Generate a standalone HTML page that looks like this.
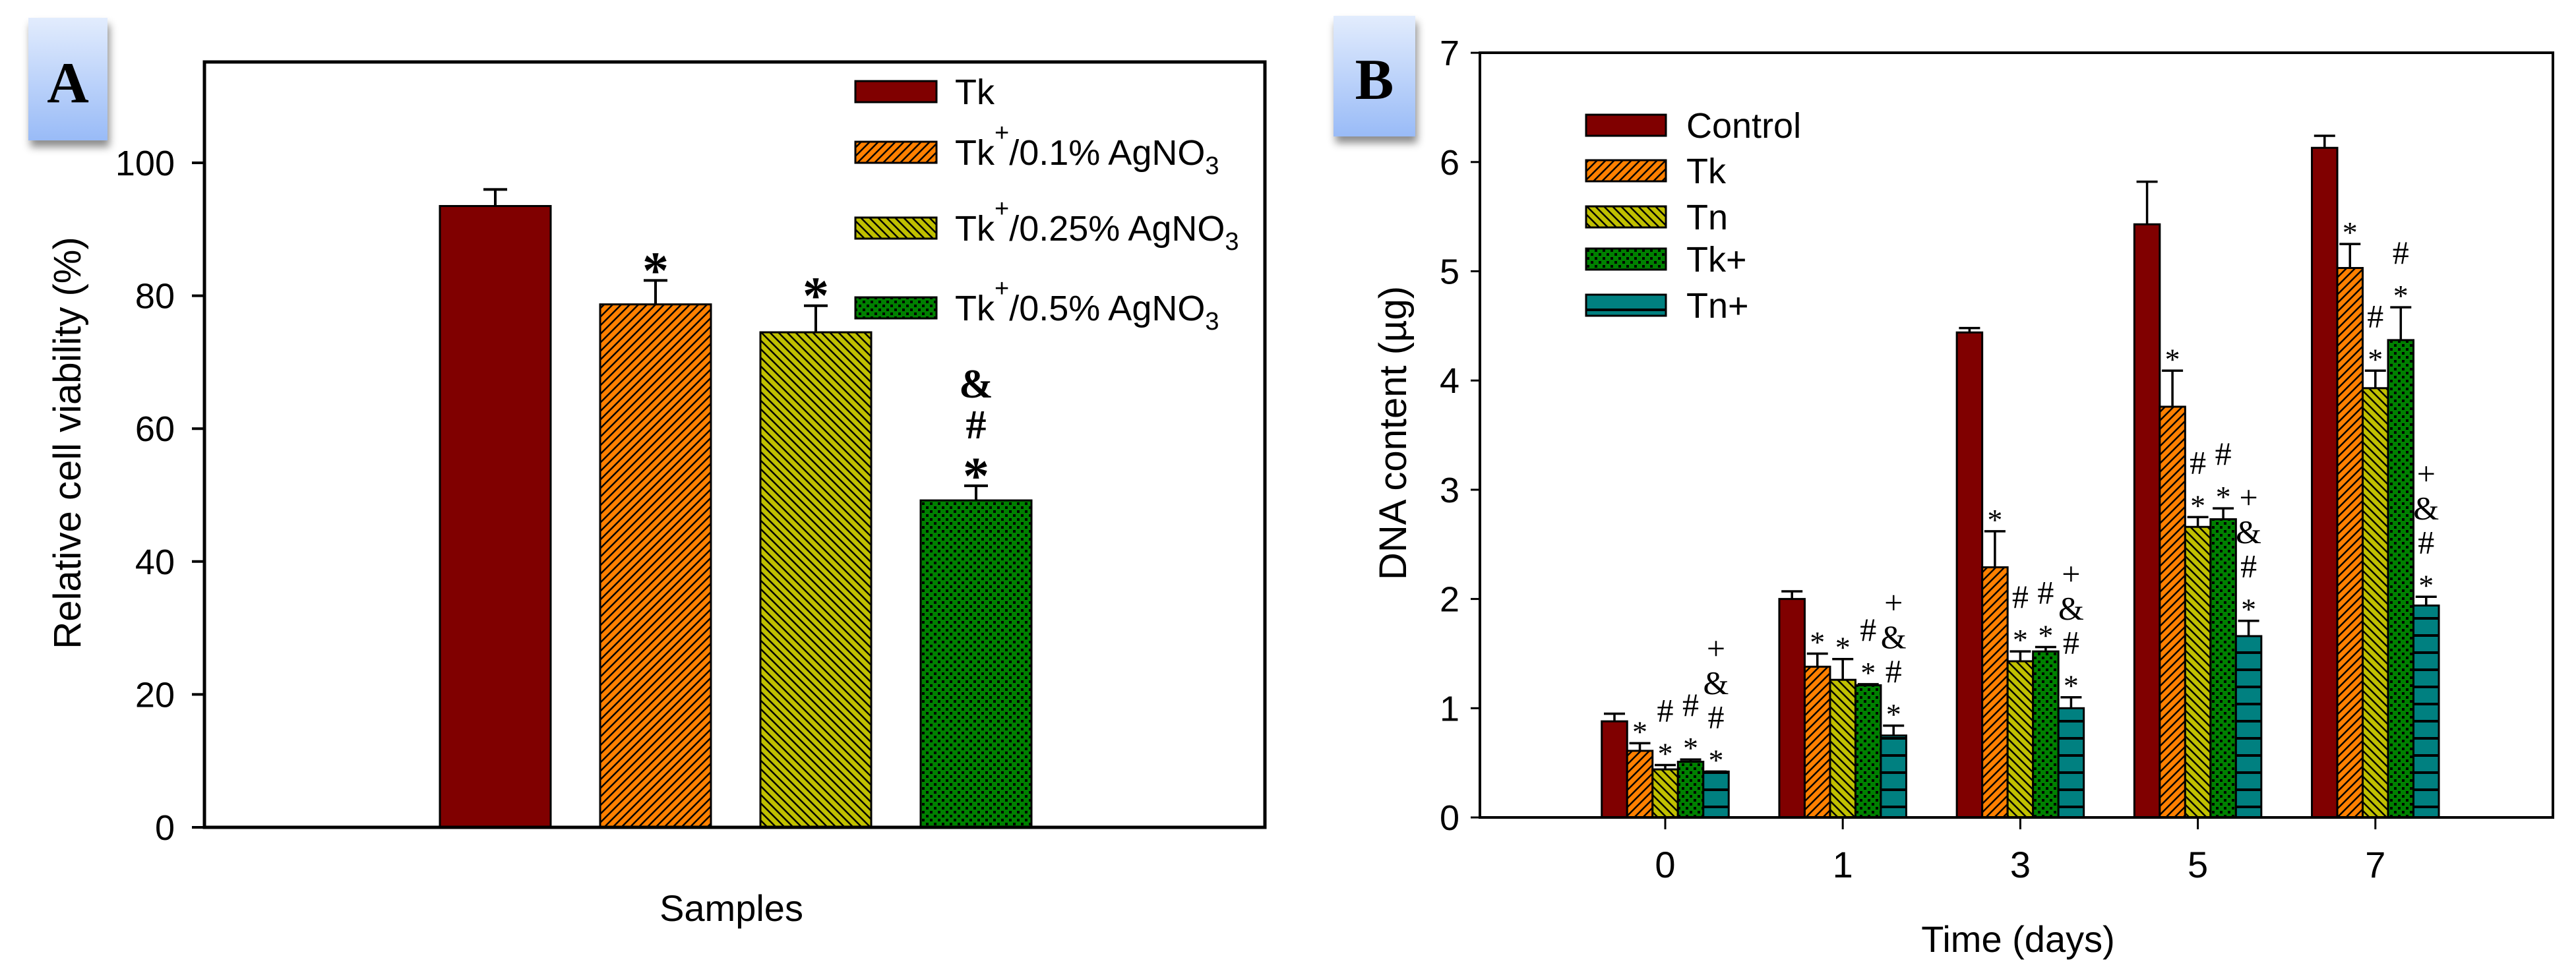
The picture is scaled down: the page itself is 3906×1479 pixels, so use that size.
<!DOCTYPE html>
<html><head><meta charset="utf-8"><style>
html,body{margin:0;padding:0;background:#fff;}
svg{display:block;font-family:"Liberation Sans",sans-serif;}
</style></head><body>
<svg id="fig" width="3906" height="1479" viewBox="0 0 3906 1479" xmlns="http://www.w3.org/2000/svg">
<defs>
<linearGradient id="boxg" x1="0" y1="0" x2="0" y2="1"><stop offset="0" stop-color="#e2ecfd"/><stop offset="1" stop-color="#99bbf7"/></linearGradient>
<filter id="sh" x="-20%" y="-20%" width="150%" height="150%"><feDropShadow dx="3" dy="10" stdDeviation="6" flood-color="#000" flood-opacity="0.45"/></filter>
<pattern id="pOr" patternUnits="userSpaceOnUse" width="13" height="13"><rect width="13" height="13" fill="#ff8000"/><path d="M-3,16 L16,-3 M-3,3 L3,-3 M10,16 L16,10" stroke="#000" stroke-width="2.5"/></pattern>
<pattern id="pYe" patternUnits="userSpaceOnUse" width="13" height="13"><rect width="13" height="13" fill="#c0c000"/><path d="M-3,-3 L16,16 M-3,10 L3,16 M10,-3 L16,3" stroke="#000" stroke-width="2.5"/></pattern>
<pattern id="pGr" patternUnits="userSpaceOnUse" width="12" height="12"><rect width="12" height="12" fill="#008000"/><rect x="0" y="0" width="4" height="4" fill="#000"/><rect x="6" y="6" width="4" height="4" fill="#000"/></pattern>
<pattern id="pTe" patternUnits="userSpaceOnUse" width="20" height="26"><rect width="20" height="26" fill="#008080"/><rect y="0" width="20" height="4" fill="#000"/></pattern>
</defs>
<g id="panelA"></g>
<g id="panelB"></g>
</svg>
<script>
// ---- Panel A data ----
const catsA = ["Tk", "Tk+/0.1% AgNO3", "Tk+/0.25% AgNO3", "Tk+/0.5% AgNO3"];
const valsA = [93.5, 78.7, 74.5, 49.2];
const errA = [2.5, 3.6, 4.0, 2.2];
const ticksA = [0, 20, 40, 60, 80, 100];
const annA = [[], ["*"], ["*"], ["*", "#", "&"]];
// ---- Panel B data ----
const daysB = ["0", "1", "3", "5", "7"];
const seriesB = ["Control", "Tk", "Tn", "Tk+", "Tn+"];
const controlB = [0.88, 2.0, 4.44, 5.43, 6.13];
const tkB = [0.61, 1.38, 2.29, 3.76, 5.03];
const tnB = [0.44, 1.26, 1.43, 2.66, 3.93];
const tkpB = [0.51, 1.21, 1.52, 2.73, 4.37];
const tnpB = [0.42, 0.75, 1.0, 1.66, 1.94];
const errControlB = [0.07, 0.07, 0.04, 0.39, 0.11];
const errTkB = [0.07, 0.12, 0.33, 0.33, 0.22];
const errTnB = [0.04, 0.19, 0.09, 0.09, 0.16];
const errTkpB = [0.02, 0.01, 0.04, 0.1, 0.3];
const errTnpB = [0.0, 0.09, 0.1, 0.14, 0.08];
const ticksB = [0, 1, 2, 3, 4, 5, 6, 7];
const annB = [
  [[], ["*"], ["*", "#"], ["*", "#"], ["*", "#", "&", "+"]],
  [[], ["*"], ["*"], ["*", "#"], ["*", "#", "&", "+"]],
  [[], ["*"], ["*", "#"], ["*", "#"], ["*", "#", "&", "+"]],
  [[], ["*"], ["*", "#"], ["*", "#"], ["*", "#", "&", "+"]],
  [[], ["*"], ["*", "#"], ["*", "#"], ["*", "#", "&", "+"]]
];

const NS = "http://www.w3.org/2000/svg";
function mk(parent, tag, attrs, text) {
  const e = document.createElementNS(NS, tag);
  for (const k in attrs) e.setAttribute(k, attrs[k]);
  if (text !== undefined) e.textContent = text;
  parent.appendChild(e);
  return e;
}
const fillsA = ["#800000", "url(#pOr)", "url(#pYe)", "url(#pGr)"];
const fillsB = ["#800000", "url(#pOr)", "url(#pYe)", "url(#pGr)", "url(#pTe)"];

// ===== Panel A =====
(function () {
  const g = document.getElementById("panelA");
  const L = 310, R = 1918, T = 94, B = 1255;
  const y = v => B - v * 10.08;
  const x = i => 751 + i * 243;
  const bw = 168;
  // label box
  const box = mk(g, "g", {});
  
  
  mk(box, "rect", { x: 43, y: 27, width: 120, height: 186, fill: "url(#boxg)", filter: "url(#sh)" });
  mk(box, "text", { x: 103, y: 155, "text-anchor": "middle", "font-family": "Liberation Serif, serif", "font-weight": "bold", "font-size": 88 }, "A");
  // bars
  valsA.forEach((v, i) => {
    const b = mk(g, "rect", { x: x(i) - bw / 2, y: y(v), width: bw, height: B - y(v), fill: fillsA[i], stroke: "#000", "stroke-width": 3 });
    
    
    const et = y(v + errA[i]);
    const eb = mk(g, "path", { d: `M${x(i)},${y(v)} V${et} M${x(i) - 18},${et} H${x(i) + 18}`, stroke: "#000", "stroke-width": 4, fill: "none" });
    
    
    annA[i].forEach((s, k) => {
      const t = mk(g, "text", { x: x(i), y: et - 10 - k * 62 + (s === "*" ? 22 : 0), "text-anchor": "middle", "font-family": "Liberation Serif, serif", "font-weight": "bold", "font-size": s === "*" ? 80 : 62 }, s);
      
      
    });
  });
  // axes
  const ax = mk(g, "rect", { x: L, y: T, width: R - L, height: B - T, fill: "none", stroke: "#000", "stroke-width": 5 });
  
  
  ticksA.forEach(tv => {
    mk(g, "line", { x1: L - 19, x2: L, y1: y(tv), y2: y(tv), stroke: "#000", "stroke-width": 4 });
    const t = mk(g, "text", { x: 265, y: y(tv) + 19, "text-anchor": "end", "font-size": 54 }, String(tv));
    
    
  });
  const yt = mk(g, "text", { x: 0, y: 0, transform: "translate(122,672) rotate(-90)", "text-anchor": "middle", "font-size": 58 }, "Relative cell viability (%)");
  
  
  const xt = mk(g, "text", { x: 1109, y: 1397, "text-anchor": "middle", "font-size": 56 }, "Samples");
  
  
  // legend
  const legY = [139, 231, 346, 467];
  const labels = [["Tk", "", ""], ["Tk", "/0.1% AgNO", "3"], ["Tk", "/0.25% AgNO", "3"], ["Tk", "/0.5% AgNO", "3"]];
  labels.forEach((lb, i) => {
    const lg = mk(g, "g", {});
    
    
    mk(lg, "rect", { x: 1297, y: legY[i] - 16, width: 123, height: 32, fill: fillsA[i], stroke: "#000", "stroke-width": 3 });
    const t = mk(lg, "text", { x: 1448, y: legY[i] + 19, "font-size": 54 });
    const s1 = mk(t, "tspan", {}, lb[0]);
    if (i > 0) {
      mk(t, "tspan", { dy: -36, "font-size": 38 }, "+");
      mk(t, "tspan", { dy: 36 }, lb[1]);
      mk(t, "tspan", { dy: 14, "font-size": 38 }, lb[2]);
    }
  });
})();

// ===== Panel B =====
(function () {
  const g = document.getElementById("panelB");
  const L = 2244, R = 3871, T = 80, B = 1240;
  const y = v => B - v * 165.7;
  const x = i => 2525 + i * 269.2;
  const bw = 38.5;
  const vals = [controlB, tkB, tnB, tkpB, tnpB];
  const errs = [errControlB, errTkB, errTnB, errTkpB, errTnpB];
  const box = mk(g, "g", {});
  
  
  mk(box, "rect", { x: 2022, y: 24, width: 124, height: 183, fill: "url(#boxg)", filter: "url(#sh)" });
  mk(box, "text", { x: 2084, y: 150, "text-anchor": "middle", "font-family": "Liberation Serif, serif", "font-weight": "bold", "font-size": 88 }, "B");
  daysB.forEach((d, di) => {
    seriesB.forEach((s, si) => {
      const v = vals[si][di];
      const bx = x(di) - 2.5 * bw + si * bw;
      const cx = bx + bw / 2;
      const b = mk(g, "rect", { x: bx, y: y(v), width: bw, height: B - y(v), fill: fillsB[si], stroke: "#000", "stroke-width": 3 });
      
      
      const et = y(v + errs[si][di]);
      const eb = mk(g, "path", { d: `M${cx},${y(v)} V${et} M${cx - 16},${et} H${cx + 16}`, stroke: "#000", "stroke-width": 3.5, fill: "none" });
      
      
      annB[di][si].forEach((m, k) => {
        const t = mk(g, "text", { x: cx, y: et - 14 - k * 52 + (m === "*" ? 12 : 0), "text-anchor": "middle", "font-family": "Liberation Serif, serif", "font-size": m === "*" ? 46 : 50 }, m);
        
        
      });
    });
    mk(g, "line", { x1: x(di), x2: x(di), y1: B, y2: B + 18, stroke: "#000", "stroke-width": 3 });
    const t = mk(g, "text", { x: x(di), y: 1331, "text-anchor": "middle", "font-size": 56 }, d);
    
    
  });
  const ax = mk(g, "rect", { x: L, y: T, width: R - L, height: B - T, fill: "none", stroke: "#000", "stroke-width": 4 });
  
  
  ticksB.forEach(tv => {
    mk(g, "line", { x1: L - 14, x2: L, y1: y(tv), y2: y(tv), stroke: "#000", "stroke-width": 3 });
    const t = mk(g, "text", { x: 2213, y: y(tv) + 19, "text-anchor": "end", "font-size": 54 }, String(tv));
    
    
  });
  const yt = mk(g, "text", { x: 0, y: 0, transform: "translate(2132,657) rotate(-90)", "text-anchor": "middle", "font-size": 58 }, "DNA content (µg)");
  
  
  const xt = mk(g, "text", { x: 3060, y: 1444, "text-anchor": "middle", "font-size": 56 }, "Time (days)");
  
  
  const legY = [190, 259, 329, 393, 463];
  seriesB.forEach((s, i) => {
    const lg = mk(g, "g", {});
    
    
    mk(lg, "rect", { x: 2405, y: legY[i] - 16, width: 121, height: 32, fill: fillsB[i], stroke: "#000", "stroke-width": 3 });
    mk(lg, "text", { x: 2557, y: legY[i] + 19, "font-size": 54 }, s);
  });
})();
</script>
</body></html>
